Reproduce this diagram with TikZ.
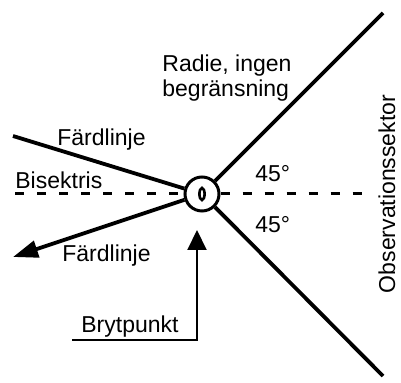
\documentclass[tikz,border=0pt]{standalone}
\usepackage{fontspec}
\setmainfont{Liberation Sans}
\usetikzlibrary{arrows.meta,positioning}

\begin{document}
\begin{tikzpicture}[x=0.5pt,y=-0.5pt,
	tjock/.style={line width=1.9pt},
	streck/.style={line width=1.5pt, dash pattern=on 4.5pt off 6.5pt},
	tunn/.style={line width=1pt},
	etikett/.style={inner sep=0pt, font=\fontsize{11.5}{13}\selectfont}]
			\useasboundingbox (0,0) rectangle (401,383);
			
			% brytpunkten
			\node[draw, circle, line width=1.5pt, minimum size=17pt, inner sep=0pt] (punkt) at (202,194) {};
			\draw[line width=1.3pt] (punkt.center) ellipse (1.3pt and 3pt);
			
			\coordinate (radie) at (383,13);
			\coordinate (sektor) at (383,376);
			\coordinate (fard1) at (13,136);
			\coordinate (fard2) at (13,257);
			\coordinate (bisV) at (15,194);
			\coordinate (bisH) at (372,194);
			\coordinate (bryt) at (72,340);
			\coordinate (hörn) at (197,340);
			\coordinate (spets) at (197,230);
			
			\draw[tjock] (punkt) -- (radie);
			\draw[tjock] (punkt) -- (sektor);
			\draw[tjock] (fard1) -- (punkt);
			\draw[tjock, -{Triangle[length=12.5pt, width=8.5pt]}] (punkt) -- (fard2);
			
			\draw[streck] (bisV) -- (punkt);
			\draw[streck] (punkt) -- (bisH);
			
			\draw[tunn, -{Triangle[length=10pt, width=9.5pt]}] (bryt) -- (hörn) -- (spets);
			
			\node[etikett, anchor=base west] (radie1) at (162,72) {Radie, ingen};
			\node[etikett, anchor=base west] (radie2) at ([yshift=-12.5pt]radie1.base west) {begränsning};
			\node[etikett, anchor=base west] (fardtext1) at (57,146) {Färdlinje};
			\node[etikett, anchor=base west] (bistext) at (15,189) {Bisektris};
			\node[etikett, anchor=base west] (fardtext2) at (62,262) {Färdlinje};
			\node[etikett, anchor=base west] (vinkel1) at (255,182) {45°};
			\node[etikett, anchor=base west] (vinkel2) at (255,233) {45°};
			\node[etikett, anchor=base west] (bryttext) at (81,333) {Brytpunkt};
			\node[etikett, rotate=90] (sektortext) at (387,194) {Observationssektor};
			
\end{tikzpicture}
\end{document}
